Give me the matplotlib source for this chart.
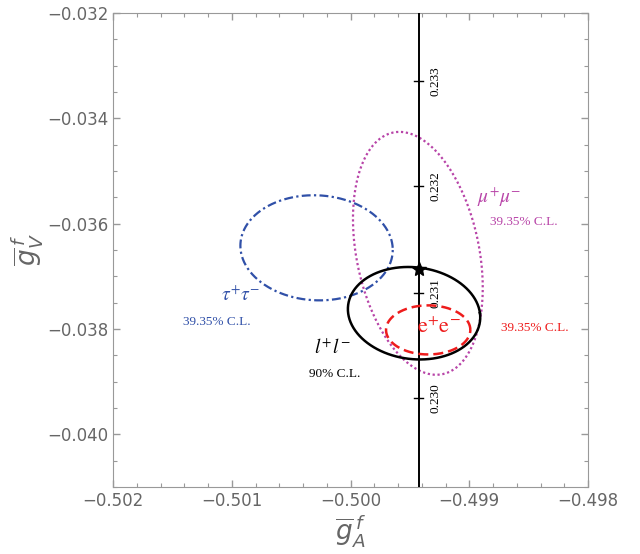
import numpy as np
import matplotlib
matplotlib.use("Agg")
import matplotlib.pyplot as plt
from matplotlib.ticker import MultipleLocator

plt.rcParams['mathtext.fontset'] = 'stix'

# confidence regions: centre (gA, gV), half widths and a small tilt term
# x = cx + ax*cos t + bx*sin t ,  y = cy + by*sin t
ll_ellipse = dict(cx=-0.499465, cy=-0.037700, ax=0.000555, bx=-0.00005, by=0.000878)
ee_ellipse = dict(cx=-0.499346, cy=-0.038017, ax=0.000355, bx=0.0, by=0.000466)
mumu_ellipse = dict(cx=-0.499433, cy=-0.036563, ax=0.000524, bx=-0.000155, by=0.002306)
tautau_ellipse = dict(cx=-0.500286, cy=-0.036458, ax=0.000641, bx=-0.000025, by=0.000998)

# SM point and the sin^2 theta_W line
sm_point = (-0.499426, -0.036854)
line_gA = -0.499426
sin2_labels = ['0.230', '0.231', '0.232', '0.233']
sin2_gV = [-0.039314, -0.037310, -0.035290, -0.033293]

xlim = (-0.502, -0.498)
ylim = (-0.041, -0.032)

blue = '#3050a8'
magenta = '#b844a8'
red = '#ee1c1c'
grey = '#666666'


def ellipse(p):
    t = np.linspace(0, 2 * np.pi, 400)
    x = p['cx'] + p['ax'] * np.cos(t) + p['bx'] * np.sin(t)
    y = p['cy'] + p['by'] * np.sin(t)
    return x, y


fig = plt.figure(figsize=(6.4, 5.54), dpi=100)
ax = fig.add_axes([0.1766, 0.1209, 0.7422, 0.8556])

# sin^2 theta_W axis along the vertical line
ax.axvline(line_gA, color='black', lw=1.4, zorder=3)
for lab, yv in zip(sin2_labels, sin2_gV):
    ax.plot([line_gA - 0.00004, line_gA + 0.00004], [yv, yv], color='black', lw=1.0, zorder=3)
    ax.text(line_gA + 0.000143, yv, lab, rotation=90, ha='center', va='center',
            fontsize=9.5, family='Liberation Serif', color='black')

x, y = ellipse(tautau_ellipse)
ax.plot(x, y, color=blue, lw=1.6, dashes=(4, 1.5, 1, 1.5))
x, y = ellipse(mumu_ellipse)
ax.plot(x, y, color=magenta, lw=1.6, dashes=(1, 1.2))
x, y = ellipse(ll_ellipse)
ax.plot(x, y, color='black', lw=1.8, zorder=4)
x, y = ellipse(ee_ellipse)
ax.plot(x, y, color=red, lw=1.8, dashes=(4, 2), zorder=4)

ax.plot(*sm_point, marker='*', color='black', ms=10, zorder=5)

# labels (centre positions)
cl = dict(ha='center', va='center', fontsize=9.5, family='Liberation Serif')
big = dict(ha='center', va='center', fontsize=14)
ax.text(-0.498748, -0.035492, r'$\mu^{+}\mu^{-}$', color=magenta, **big)
ax.text(-0.498542, -0.035968, '39.35% C.L.', color=magenta, **cl)
ax.text(-0.500924, -0.037361, r'$\tau^{+}\tau^{-}$', color=blue, **big)
ax.text(-0.501130, -0.037869, '39.35% C.L.', color=blue, **cl)
ax.text(-0.500151, -0.038369, r'$l^{+}l^{-}$', color='black', **big)
ax.text(-0.500134, -0.038863, '90% C.L.', color='black', **cl)
ax.text(-0.499252, -0.037960, r'$\mathrm{e^{+}e^{-}}$', color=red, ha='center', va='center', fontsize=16)
ax.text(-0.498445, -0.037983, '39.35% C.L.', color=red, **cl)

ax.set_xlim(*xlim)
ax.set_ylim(*ylim)
ax.xaxis.set_major_locator(MultipleLocator(0.001))
ax.xaxis.set_minor_locator(MultipleLocator(0.0002))
ax.yaxis.set_major_locator(MultipleLocator(0.002))
ax.yaxis.set_minor_locator(MultipleLocator(0.0005))
ax.xaxis.set_major_formatter(plt.FuncFormatter(lambda v, p: f'{v:.3f}'.replace('-', '\u2212')))
ax.yaxis.set_major_formatter(plt.FuncFormatter(lambda v, p: f'{v:.3f}'.replace('-', '\u2212')))
ax.tick_params(which='both', direction='in', top=True, right=True, colors='#999999',
               labelcolor=grey, labelsize=12)
ax.tick_params(which='major', length=5, width=1)
ax.tick_params(which='minor', length=3, width=0.8)
for s in ax.spines.values():
    s.set_color('#999999')

ax.set_xlabel(r'$\overline{g}_{A}^{\,f}$', fontsize=19, color=grey, labelpad=2,
              math_fontfamily='dejavusans')
ax.set_ylabel(r'$\overline{g}_{V}^{\,f}$', fontsize=19, color=grey, labelpad=1,
              math_fontfamily='dejavusans')

fig.savefig('out.png', dpi=100)
